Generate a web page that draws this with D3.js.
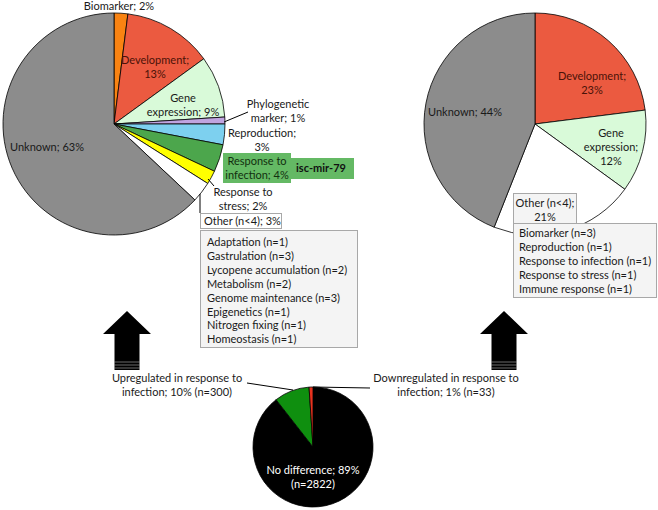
<!DOCTYPE html>
<html><head><meta charset="utf-8">
<script src="https://cdn.jsdelivr.net/npm/d3@7"></script>
<style>
html,body{margin:0;padding:0;background:#fff;}
text{font-family:Lato,"Open Sans",sans-serif;}
</style></head>
<body><svg id="c" width="658" height="510"></svg>
<script>
// ---- data ----
const leftCategories = ["Biomarker","Development","Gene expression","Phylogenetic marker","Reproduction","Response to infection","Response to stress","Other (n<4)","Unknown"];
const leftValues = [2,13,9,1,3,4,2,3,63];
const leftColors = ["#f98312","#eb5a40","#d9fad9","#c0a4e0","#7dd0ef","#4ca64c","#ffff00","#ffffff","#8c8c8c"];

const rightCategories = ["Development","Gene expression","Other (n<4)","Unknown"];
const rightValues = [23,12,21,44];
const rightColors = ["#eb5a40","#d9fad9","#ffffff","#8c8c8c"];

const bottomCategories = ["No difference","Upregulated in response to infection","Downregulated in response to infection"];
const bottomValues = [2822,300,33];
const bottomColors = ["#000000","#0f8f0f","#e8321e"];

const leftOtherItems = ["Adaptation (n=1)","Gastrulation (n=3)","Lycopene accumulation (n=2)","Metabolism (n=2)","Genome maintenance (n=3)","Epigenetics (n=1)","Nitrogen fixing (n=1)","Homeostasis (n=1)"];
const rightOtherItems = ["Biomarker (n=3)","Reproduction (n=1)","Response to infection (n=1)","Response to stress (n=1)","Immune response (n=1)"];

const svg = d3.select("#c");
const FS = 11;

function drawPie(cx, cy, r, values, colors){
  const pie = d3.pie().sort(null).value(d=>d)(values);
  const arc = d3.arc().innerRadius(0).outerRadius(r);
  const g = svg.append("g").attr("transform",`translate(${cx},${cy})`);
  g.selectAll("path").data(pie).join("path")
    .attr("d",arc).attr("fill",(d,i)=>colors[i])
    .attr("stroke","#000").attr("stroke-width",0.8).attr("stroke-linejoin","round");
  return g;
}
function lines(x, y, arr, opts={}){
  const t = svg.append("text").attr("x",x).attr("y",y)
    .attr("text-anchor",opts.anchor||"middle")
    .attr("font-size",opts.size||FS)
    .attr("font-weight",opts.weight||"normal")
    .attr("fill",opts.fill||"#1a1a1a");
  arr.forEach((s,i)=>t.append("tspan").attr("x",x).attr("dy",i===0?0:(opts.lh||13.8)).text(s));
  return t;
}
function seg(x1,y1,x2,y2){
  svg.append("line").attr("x1",x1).attr("y1",y1).attr("x2",x2).attr("y2",y2)
    .attr("stroke","#000").attr("stroke-width",1);
}

// ---- left pie ----
drawPie(114,124,111,leftValues,leftColors);
lines(119,10,["Biomarker; 2%"]);
lines(155,64,["Development;","13%"],{fill:"#4a1208"});
lines(183,102,["Gene","expression; 9%"]);
lines(278,108,["Phylogenetic","marker; 1%"]);
seg(224,122,248,112);
lines(262,137,["Reproduction;","3%"]);
// green annotation box
svg.append("rect").attr("x",288).attr("y",158).attr("width",66).attr("height",21).attr("fill","#64b964");
svg.append("rect").attr("x",223).attr("y",153).attr("width",68).attr("height",30).attr("fill","#64b964");
lines(257,165,["Response to","infection; 4%"],{fill:"#12300f",lh:13.5});
lines(321,172,["isc-mir-79"],{weight:"bold",fill:"#111"});
lines(243,196,["Response to","stress; 2%"]);
seg(208,179,214,186);
seg(200,194,200,213);
// other box
svg.append("rect").attr("x",200.5).attr("y",213.5).attr("width",81).attr("height",15)
  .attr("fill","#fff").attr("stroke","#a8a8a8");
lines(204,225,["Other (n<4); 3%"],{anchor:"start"});
svg.append("rect").attr("x",200.5).attr("y",230.5).attr("width",157).attr("height",117)
  .attr("fill","#f4f4f4").attr("stroke","#a8a8a8");
lines(207,246,leftOtherItems,{anchor:"start",lh:13.9});
lines(47,151,["Unknown; 63%"]);

// ---- right pie ----
drawPie(535,124,111,rightValues,rightColors);
lines(592,80,["Development;","23%"],{fill:"#4a1208"});
lines(611,137,["Gene","expression;","12%"]);
lines(465,116,["Unknown; 44%"]);
svg.append("rect").attr("x",513.5).attr("y",193.5).attr("width",63).attr("height",30)
  .attr("fill","#f4f4f4").attr("stroke","#a8a8a8");
lines(545,207,["Other (n<4);","21%"]);
svg.append("rect").attr("x",513.5).attr("y",223.5).attr("width",143).attr("height",74)
  .attr("fill","#f4f4f4").attr("stroke","#a8a8a8");
lines(519,237,rightOtherItems,{anchor:"start",lh:14});

// ---- arrows ----
function arrow(cx){
  const tip=311, hb=334, bot=370, hw=24, sw=12.5;
  svg.append("path").attr("d",`M${cx},${tip}L${cx+hw},${hb}L${cx+sw},${hb}L${cx+sw},${bot}L${cx-sw},${bot}L${cx-sw},${hb}L${cx-hw},${hb}Z`)
    .attr("fill","#000");
  [362,365,368].forEach(y=>svg.append("line").attr("x1",cx-sw).attr("x2",cx+sw).attr("y1",y).attr("y2",y)
    .attr("stroke","#fff").attr("stroke-width",0.6).attr("opacity",0.7));
}
arrow(127); arrow(504);

// ---- bottom pie ----
drawPie(313,447,60,bottomValues,bottomColors);
lines(313,474,["No difference; 89%","(n=2822)"],{fill:"#fff"});
lines(177,382,["Upregulated in response to","infection; 10% (n=300)"]);
seg(247,383,293,390);
lines(446,382,["Downregulated in response to","infection; 1% (n=33)"]);
seg(313,387,370,388);
</script></body></html>
